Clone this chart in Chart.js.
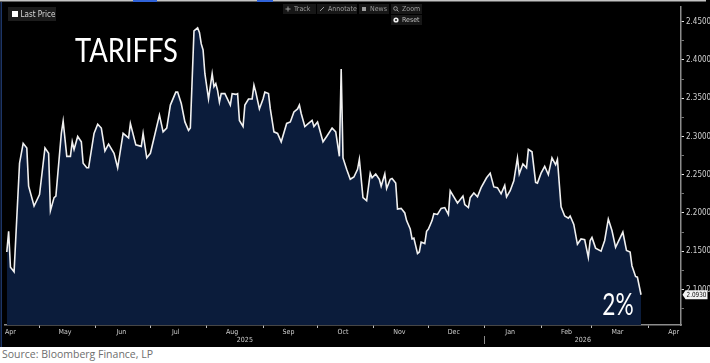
<!DOCTYPE html>
<html>
<head>
<meta charset="utf-8">
<script src="https://cdn.jsdelivr.net/npm/chart.js@4"></script>
<style>
  html, body { margin: 0; padding: 0; background: #fff; }
  #wrap { position: relative; width: 710px; height: 347px; }
  #source { position: absolute; left: 2px; top: 347px; font: 10.5px 'Open Sans', sans-serif; color: #6e6e6e; }
</style>
</head>
<body>
<div id="wrap"><canvas id="chart"></canvas></div>
<div id="source">Source: Bloomberg Finance, LP</div>
<script>
// series
const dates = [
  '2025-04-13','2025-04-14','2025-04-15','2025-04-17','2025-04-20','2025-04-22','2025-04-24','2025-04-25','2025-04-28',
  '2025-05-01','2025-05-04','2025-05-06','2025-05-07','2025-05-09','2025-05-10','2025-05-13','2025-05-14','2025-05-16',
  '2025-05-18','2025-05-19','2025-05-20','2025-05-22','2025-05-24','2025-05-25','2025-05-27','2025-05-28','2025-05-31',
  '2025-06-02','2025-06-04','2025-06-06','2025-06-08','2025-06-11','2025-06-13','2025-06-16','2025-06-19','2025-06-20',
  '2025-06-23','2025-06-26','2025-06-27','2025-06-29','2025-07-01','2025-07-06','2025-07-08','2025-07-10','2025-07-12',
  '2025-07-15','2025-07-16','2025-07-18','2025-07-20','2025-07-22','2025-07-23','2025-07-25','2025-07-27','2025-07-28',
  '2025-07-29','2025-07-30','2025-07-31','2025-08-02','2025-08-04','2025-08-05','2025-08-06','2025-08-07','2025-08-08',
  '2025-08-09','2025-08-11','2025-08-14','2025-08-15','2025-08-17','2025-08-18','2025-08-19','2025-08-21','2025-08-22',
  '2025-08-24','2025-08-26','2025-08-27','2025-08-28','2025-08-30','2025-09-01','2025-09-02','2025-09-04','2025-09-05',
  '2025-09-07','2025-09-09','2025-09-11','2025-09-14','2025-09-16','2025-09-18','2025-09-20','2025-09-21','2025-09-22',
  '2025-09-24','2025-09-26','2025-09-28','2025-09-29','2025-10-01','2025-10-04','2025-10-06','2025-10-09','2025-10-11',
  '2025-10-13','2025-10-14','2025-10-15','2025-10-17','2025-10-19','2025-10-21','2025-10-23','2025-10-24','2025-10-26',
  '2025-10-28','2025-10-30','2025-10-31','2025-11-02','2025-11-04','2025-11-05','2025-11-07','2025-11-08','2025-11-10',
  '2025-11-11','2025-11-13','2025-11-14','2025-11-16','2025-11-18','2025-11-19','2025-11-21','2025-11-22','2025-11-23',
  '2025-11-25','2025-11-26','2025-11-27','2025-11-29','2025-11-30','2025-12-01','2025-12-03','2025-12-04','2025-12-06',
  '2025-12-08','2025-12-10','2025-12-12','2025-12-13','2025-12-15','2025-12-17','2025-12-18','2025-12-20','2025-12-21',
  '2025-12-23','2025-12-24','2025-12-26','2025-12-28','2025-12-30','2026-01-02','2026-01-04','2026-01-06','2026-01-08',
  '2026-01-10','2026-01-12','2026-01-13','2026-01-15','2026-01-17','2026-01-19','2026-01-20','2026-01-22','2026-01-24',
  '2026-01-25','2026-01-27','2026-01-29','2026-01-30','2026-02-01','2026-02-03','2026-02-05','2026-02-07','2026-02-09',
  '2026-02-10','2026-02-12','2026-02-14','2026-02-16','2026-02-17','2026-02-19','2026-02-21','2026-02-23','2026-02-25',
  '2026-02-27','2026-02-28','2026-03-01','2026-03-03','2026-03-06','2026-03-08','2026-03-10','2026-03-12','2026-03-14',
  '2026-03-18','2026-03-20','2026-03-22','2026-03-23','2026-03-25','2026-03-26','2026-03-28'
];
const prices = [
  2.149, 2.176, 2.129, 2.123, 2.265, 2.291, 2.285, 2.235, 2.209,
  2.224, 2.285, 2.278, 2.203, 2.220, 2.222, 2.304, 2.320, 2.274,
  2.274, 2.293, 2.283, 2.300, 2.293, 2.265, 2.259, 2.259, 2.304,
  2.316, 2.311, 2.281, 2.290, 2.278, 2.259, 2.304, 2.298, 2.317,
  2.289, 2.287, 2.304, 2.272, 2.278, 2.328, 2.306, 2.311, 2.341,
  2.358, 2.358, 2.343, 2.319, 2.308, 2.311, 2.438, 2.442, 2.436,
  2.421, 2.413, 2.382, 2.349, 2.382, 2.365, 2.369, 2.360, 2.345,
  2.356, 2.356, 2.341, 2.356, 2.355, 2.356, 2.321, 2.313, 2.341,
  2.349, 2.349, 2.367, 2.358, 2.336, 2.349, 2.358, 2.356, 2.336,
  2.306, 2.304, 2.293, 2.317, 2.319, 2.332, 2.336, 2.341, 2.330,
  2.313, 2.317, 2.321, 2.313, 2.319, 2.293, 2.300, 2.311, 2.306,
  2.274, 2.388, 2.272, 2.257, 2.244, 2.247, 2.257, 2.270, 2.220,
  2.216, 2.252, 2.246, 2.251, 2.244, 2.235, 2.251, 2.232, 2.244,
  2.245, 2.239, 2.205, 2.206, 2.200, 2.190, 2.179, 2.166, 2.167,
  2.147, 2.149, 2.162, 2.160, 2.176, 2.179, 2.190, 2.199, 2.198,
  2.206, 2.207, 2.198, 2.229, 2.221, 2.213, 2.216, 2.222, 2.211,
  2.207, 2.220, 2.226, 2.221, 2.233, 2.246, 2.252, 2.234, 2.233,
  2.225, 2.236, 2.221, 2.229, 2.242, 2.272, 2.251, 2.264, 2.259,
  2.283, 2.280, 2.240, 2.239, 2.252, 2.261, 2.250, 2.272, 2.263,
  2.270, 2.208, 2.196, 2.193, 2.196, 2.185, 2.159, 2.166, 2.165,
  2.142, 2.164, 2.168, 2.154, 2.150, 2.164, 2.192, 2.177, 2.155,
  2.175, 2.151, 2.149, 2.131, 2.117, 2.116, 2.093
];
const seriesName = 'Last Price';
const monthNames = ['Jan','Feb','Mar','Apr','May','Jun','Jul','Aug','Sep','Oct','Nov','Dec'];
const yLabelTicks = [2.10, 2.15, 2.20, 2.25, 2.30, 2.35, 2.40, 2.45];
const viewStart = '2025-04-12';
const viewEnd = '2026-04-19';
const yMin = 2.0535, yMax = 2.4695;
const titleNote = 'TARIFFS';
const levelNote = '2%';
const toolNames = ['Track', 'Annotate', 'News', 'Zoom', 'Reset'];

const narrow = "'Liberation Sans Narrow', 'DejaVu Sans Condensed', 'Liberation Sans', sans-serif";
Chart.defaults.font.family = narrow;

const dayNum = s => Date.UTC(+s.slice(0, 4), +s.slice(5, 7) - 1, +s.slice(8, 10)) / 86400000;
const ymd = (y, m, d) => Date.UTC(y, m, d) / 86400000;
const xMin = dayNum(viewStart), xMax = dayNum(viewEnd);

// month boundaries get a tick mark, the 15th gets the month name
const monthLabels = {};
const monthStarts = [];
for (let y = 2025, m = 3; y < 2026 || m <= 3; m++) {
  if (m > 11) { m = 0; y++; }
  const start = ymd(y, m, 1), mid = ymd(y, m, 15);
  if (start > xMin) monthStarts.push(start);
  if (mid >= xMin && mid <= xMax) monthLabels[mid] = monthNames[m];
  if (y === 2026 && m === 3) break;
}
const xTicks = Object.keys(monthLabels).map(Number).concat(monthStarts).sort((a, b) => a - b);

const newYear = ymd(2026, 0, 1);
const yearLabels = {};
yearLabels[Math.round((xMin + newYear) / 2)] = '2025';
yearLabels[Math.round((newYear + xMax) / 2)] = '2026';

const yTicks = [];
yLabelTicks.forEach(v => { yTicks.push(v); yTicks.push(+(v - 0.025).toFixed(3)); });
yTicks.sort((a, b) => a - b);
const isMajor = v => Math.abs(v * 20 - Math.round(v * 20)) < 1e-6;

function fitText(ctx, text, x, base, w, size, family) {
  ctx.save();
  ctx.font = size + 'px ' + family;
  ctx.textAlign = 'left';
  ctx.textBaseline = 'alphabetic';
  const m = ctx.measureText(text);
  const inkW = m.actualBoundingBoxLeft + m.actualBoundingBoxRight;
  ctx.translate(x, base);
  ctx.scale(w / inkW, 1);
  ctx.fillText(text, m.actualBoundingBoxLeft, 0);
  ctx.restore();
}

const backdrop = {
  id: 'backdrop',
  beforeDraw(chart) {
    const { ctx, width, height } = chart;
    ctx.save();
    ctx.fillStyle = '#000';
    ctx.fillRect(0, 0, width, height);
    ctx.fillStyle = '#c4c4c4';
    ctx.fillRect(0, 0, width - 4, 1.5);
    ctx.fillStyle = '#2f62d8';
    ctx.fillRect(133, 0, 24, 2);
    ctx.fillRect(257, 0, 16, 2);
    ctx.fillStyle = '#1d3566';
    ctx.fillRect(0.5, 2, 1.5, height - 2);
    ctx.restore();
  }
};

const overlay = {
  id: 'overlay',
  afterDraw(chart) {
    const { ctx } = chart;
    ctx.save();
    // legend chip
    ctx.fillStyle = '#1c1c1c';
    ctx.fillRect(8, 7, 48, 14);
    ctx.fillStyle = '#fff';
    ctx.fillRect(12, 11, 6, 6);
    ctx.fillStyle = '#d8d8d8';
    ctx.font = '8px ' + narrow;
    ctx.textBaseline = 'middle';
    ctx.fillText(chart.data.datasets[0].label, 20.5, 14.5);

    // toolbar
    const boxes = [[283, 4, 33], [317, 4, 40], [359, 4, 30], [391, 4, 31], [391, 15, 31]];
    ctx.font = '7px ' + narrow;
    boxes.forEach((b, i) => {
      ctx.fillStyle = '#171717';
      ctx.fillRect(b[0], b[1], b[2], 10);
      ctx.fillStyle = '#9c9c9c';
      ctx.strokeStyle = '#9c9c9c';
      ctx.lineWidth = 1;
      const cx = b[0] + 5, cy = b[1] + 5;
      ctx.beginPath();
      if (i === 0) { ctx.moveTo(cx - 2.5, cy); ctx.lineTo(cx + 2.5, cy); ctx.moveTo(cx, cy - 2.5); ctx.lineTo(cx, cy + 2.5); ctx.stroke(); }
      if (i === 1) { ctx.moveTo(cx - 2, cy + 2); ctx.lineTo(cx + 2, cy - 2); ctx.stroke(); }
      if (i === 2) { ctx.fillRect(cx - 2, cy - 2, 4, 4); }
      if (i === 3) { ctx.arc(cx - 0.5, cy - 0.5, 1.8, 0, Math.PI * 2); ctx.moveTo(cx + 1, cy + 1); ctx.lineTo(cx + 2.5, cy + 2.5); ctx.stroke(); }
      if (i === 4) { ctx.fillStyle = '#eee'; ctx.arc(cx, cy, 2.6, 0, Math.PI * 2); ctx.fill(); ctx.fillStyle = '#171717'; ctx.beginPath(); ctx.arc(cx, cy, 1, 0, Math.PI * 2); ctx.fill(); ctx.fillStyle = '#bdbdbd'; }
      ctx.fillText(toolNames[i], b[0] + 11, b[1] + 5.5);
    });

    // notes
    ctx.fillStyle = '#ffffff';
    fitText(ctx, titleNote, 75, 62, 102, 33.5, 'Lato, sans-serif');
    fitText(ctx, levelNote, 603, 315, 30, 31, 'Lato, sans-serif');

    // last value tag on the axis
    const last = prices[prices.length - 1];
    const yPix = chart.scales.y.getPixelForValue(last);
    const left = chart.chartArea.right + 1.5;
    ctx.fillStyle = '#f2f2f2';
    ctx.beginPath();
    ctx.moveTo(left, yPix);
    ctx.lineTo(left + 3, yPix - 4.5);
    ctx.lineTo(left + 25, yPix - 4.5);
    ctx.lineTo(left + 25, yPix + 4.5);
    ctx.lineTo(left + 3, yPix + 4.5);
    ctx.closePath();
    ctx.fill();
    ctx.fillStyle = '#111';
    ctx.font = '7px ' + narrow;
    ctx.textBaseline = 'middle';
    ctx.textAlign = 'right';
    ctx.fillText(last.toFixed(4), left + 24, yPix + 0.5, 20);
    ctx.restore();
  }
};

new Chart(document.getElementById('chart'), {
  type: 'line',
  data: {
    datasets: [{
      label: seriesName,
      data: dates.map((d, i) => ({ x: dayNum(d), y: prices[i] })),
      borderColor: '#f0f0f0',
      borderWidth: 1.6,
      backgroundColor: '#0b1c3b',
      fill: 'start',
      pointRadius: 0,
      tension: 0
    }]
  },
  options: {
    responsive: true,
    maintainAspectRatio: false,
    animation: false,
    layout: { padding: { left: 5, top: 4, right: 0, bottom: 0 } },
    plugins: { legend: { display: false }, tooltip: { enabled: false } },
    scales: {
      x: {
        type: 'linear', position: 'bottom', weight: 0, min: xMin, max: xMax,
        afterBuildTicks: s => { s.ticks = xTicks.map(v => ({ value: v })); },
        afterFit: s => { s.height = 11; },
        grid: {
          drawOnChartArea: false, tickLength: 3, lineWidth: 1,
          tickColor: c => (c.tick && monthLabels[c.tick.value]) ? 'rgba(0,0,0,0)' : '#bdbdbd'
        },
        border: { color: '#8c8c8c', width: 1.5 },
        ticks: {
          autoSkip: false, maxRotation: 0, padding: 0, color: '#cfcfcf', font: { size: 7 },
          callback: v => monthLabels[v] || ''
        }
      },
      xYear: {
        type: 'linear', position: 'bottom', weight: 1, min: xMin, max: xMax,
        afterBuildTicks: s => { s.ticks = [newYear].concat(Object.keys(yearLabels).map(Number)).map(v => ({ value: v })); },
        afterFit: s => { s.height = 11; },
        grid: {
          drawOnChartArea: false, tickLength: 8, lineWidth: 1,
          tickColor: c => (c.tick && c.tick.value === newYear) ? '#8c8c8c' : 'rgba(0,0,0,0)'
        },
        border: { display: false },
        ticks: {
          autoSkip: false, maxRotation: 0, padding: -8, color: '#cfcfcf', font: { size: 7 },
          callback: v => yearLabels[v] || ''
        }
      },
      y: {
        position: 'right', min: yMin, max: yMax,
        afterBuildTicks: s => { s.ticks = yTicks.map(v => ({ value: v })); },
        afterFit: s => { s.width = 29; },
        grid: {
          drawOnChartArea: false, tickLength: 3, lineWidth: 1,
          tickColor: c => (c.tick && isMajor(c.tick.value)) ? '#e8e8e8' : '#777'
        },
        border: { color: '#8c8c8c', width: 1.5 },
        ticks: {
          padding: 2, color: '#d0d0d0', font: { size: 8 },
          callback: v => isMajor(v) ? v.toFixed(4) : ''
        }
      }
    }
  },
  plugins: [backdrop, overlay]
});
</script>
</body>
</html>
